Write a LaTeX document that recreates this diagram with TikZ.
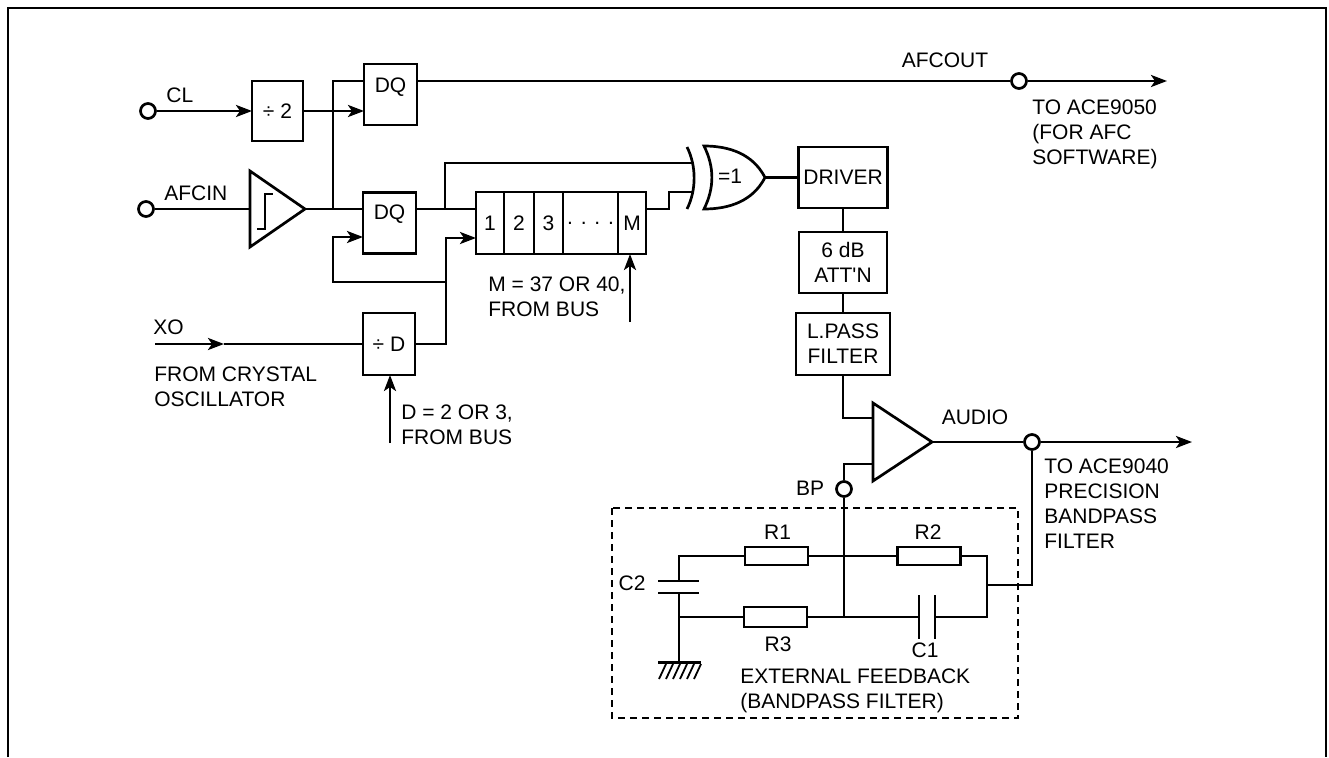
\documentclass[tikz,border=0pt]{standalone}
\usepackage{fontspec}
\setmainfont{Liberation Sans}
\usetikzlibrary{arrows.meta,positioning}

\begin{document}
\begin{tikzpicture}[x=1pt,y=-1pt,line width=2.7pt,
		font=\fontsize{21}{25}\selectfont,
		blk/.style={draw,inner sep=0pt,outer sep=0pt,minimum width=53pt,minimum height=61pt},
		cell/.style={draw,inner sep=0pt,outer sep=0pt,minimum height=62pt},
		term/.style={draw,circle,fill=white,inner sep=0pt,minimum size=15pt},
		res/.style={draw,line width=2.3pt,inner sep=0pt,minimum width=63pt,minimum height=18pt},
		txt/.style={align=left,inner sep=0pt},
		sig/.style={-{Stealth[length=16pt,width=12pt,inset=4pt]}},
		wire/.style={line width=2.3pt}]
	\useasboundingbox (0,0) rectangle (1329,757);
	\draw (8,757) -- (8,8) -- (1326,8) -- (1326,757);

	% CL, divide by 2 and AFCOUT
	\node[term] (cl) at (148,111) {};
	\node[txt,anchor=west] (cllab) at (165,95) {CL};
	\node[blk,minimum width=51pt,minimum height=60pt] (div2) at (277.5,111) {÷ 2};
	\node[blk] (dq1) at (390.5,94.5) {};
	\node[anchor=north,inner sep=0pt] (dq1t) at ([yshift=-12pt]dq1.north) {DQ};
	\coordinate (dq1d) at ([yshift=13.5pt]dq1.west);
	\coordinate (dq1q) at ([yshift=13.5pt]dq1.east);
	\draw[sig] (cl) -- (div2);
	\draw[sig] (div2) -- (div2 -| dq1.west);
	\node[term] (afco) at (1019,81) {};
	\node (afcolab) at (945,60) {AFCOUT};
	\coordinate (afcend) at (1167,81);
	\draw (dq1q) -- (afco);
	\draw[sig] (afco) -- (afcend);
	\node[txt,anchor=north west] (afcotxt) at (1031,98.5) {TO ACE9050\\(FOR AFC\\SOFTWARE)};

	% AFCIN and schmitt trigger
	\node[term] (afci) at (146,209) {};
	\node[txt,anchor=west] (afcilab) at (163,193) {AFCIN};
	\coordinate (stin) at (250,209);
	\coordinate (stout) at (305,209);
	\draw[line join=miter] (250,171) -- (stout) -- (250,247) -- cycle;
	\draw[wire] (257,229) -| (265,194) -- (273,194);
	\draw (afci) -- (stin);
	\node[blk] (dq2) at (389.5,223) {};
	\node[anchor=north,inner sep=0pt] (dq2t) at ([yshift=-11pt]dq2.north) {DQ};
	\coordinate (dq2d) at ([yshift=14pt]dq2.west);
	\coordinate (dq2ck) at ([yshift=-14pt]dq2.west);
	\coordinate (dq2q) at ([yshift=14pt]dq2.east);
	\draw (stout) -- (dq2d);
	\coordinate (jin) at (333,209);
	\draw (jin) |- (dq1d);

	% shift register
	\node[cell,minimum width=28pt,anchor=west] (r1) at (476,223) {1};
	\node[cell,minimum width=30pt,right=0pt of r1] (r2) {2};
	\node[cell,minimum width=29pt,right=0pt of r2] (r3) {3};
	\node[cell,minimum width=55pt,right=0pt of r3] (r4) {. . . .};
	\node[cell,minimum width=28pt,right=0pt of r4] (r5) {M};
	\draw (dq2q) -- (r1.west |- dq2q);
	\coordinate (jbr) at (445,209);
	\coordinate (xin1) at (692,163);
	\coordinate (xin2) at (692,192);
	\draw (jbr) |- (xin1);
	\coordinate (rq) at (r5.east |- dq2q);
	\draw (rq) -- ++(23,0) |- (xin2);
	\coordinate (mbus) at (630,322);
	\draw[sig] (mbus) -- (mbus |- r5.south);
	\node[txt,anchor=north west] (mtxt) at (487,275.5) {M = 37 OR 40,\\FROM BUS};

	% XO and divide by D
	\node[txt,anchor=west] (xolab) at (152,327) {XO};
	\coordinate (xo) at (155,344);
	\coordinate (xoarr) at (224,344);
	\node[blk,minimum width=52pt,minimum height=62pt] (divd) at (389,344) {÷ D};
	\draw[sig] (xo) -- (xoarr);
	\draw (xoarr) -- (divd);
	\node[txt,anchor=north west] (xotxt) at (153,365.5) {FROM CRYSTAL\\OSCILLATOR};
	\coordinate (dbus) at (390,443);
	\draw[sig] (dbus) -- (dbus |- divd.south);
	\node[txt,anchor=north west] (dtxt) at (400,403.5) {D = 2 OR 3,\\FROM BUS};
	\coordinate (jck) at (446,238);
	\coordinate (jlp) at (446,282);
	\draw[sig] (divd.east) -| (jck) -- (r1.west |- jck);
	\draw[sig] (jlp) -| ([xshift=-30pt]dq2ck) -- (dq2ck);

	% exclusive or
	\coordinate (xout) at (765,177.5);
	\draw (704,146) .. controls (738,146) and (756,160) .. (xout) .. controls (756,195) and (738,209) .. (704,209) .. controls (714.5,188) and (714.5,167) .. cycle;
	\draw (687,147) .. controls (696.5,166) and (696.5,190) .. (687,209);
	\node (xlab) at (730,176) {=1};

	% audio chain
	\node[blk,minimum width=89pt] (drv) at (843,177.5) {DRIVER};
	\node[blk,minimum width=88pt,below=24pt of drv,align=center] (att) {6 dB\\ATT\textquotesingle N};
	\node[blk,minimum width=94pt,minimum height=62pt,below=20pt of att,align=center] (lpf) {L.PASS\\FILTER};
	\draw (xout) -- (drv);
	\draw (drv) -- (att);
	\draw (att) -- (lpf);
	\coordinate (ain1) at (873,418);
	\coordinate (ain2) at (873,464);
	\coordinate (aout) at (932,442);
	\draw[line join=miter] (873,403) -- (aout) -- (873,481) -- cycle;
	\draw (lpf) |- (ain1);
	\node[term] (bp) at (844,489) {};
	\node (bplab) at (810,488) {BP};
	\draw (bp) |- (ain2);
	\node[term] (aud) at (1032,442) {};
	\node (audlab) at (975,417) {AUDIO};
	\coordinate (audend) at (1192,442);
	\draw (aout) -- (aud);
	\draw[sig] (aud) -- (audend);
	\node[txt,anchor=north west] (audtxt) at (1043,457.5) {TO ACE9040\\PRECISION\\BANDPASS\\FILTER};

	% external feedback network
	\draw[line width=2.2pt,dash pattern=on 7pt off 5pt] (612,508) rectangle (1018,718);
	\node[res] (res1) at (776.5,556) {};
	\node[res] (res2) at (929,556) {};
	\node[res,minimum height=20pt] (res3) at (775.5,617) {};
	\coordinate (c2a) at (679,581);
	\coordinate (c2b) at (679,593);
	\coordinate (c1a) at (919,617);
	\coordinate (c1b) at (935,617);
	\coordinate (jb) at (844,617);
	\coordinate (rb) at (987,617);
	\coordinate (rm) at (987,585);
	\coordinate (gnd) at (679,662);
	\begin{scope}[wire]
		\draw (c2a) |- (res1);
		\draw (res1) -- (res2);
		\draw (res2) -| (rb) -- (c1b);
		\draw (c1a) -- (res3);
		\draw (res3) -| (c2b);
		\draw (c2b) -- (gnd);
		\draw (bp) -- (jb);
		\draw (rm) -| (aud);
		\draw ([xshift=-21pt]c2a) -- ([xshift=20pt]c2a);
		\draw ([xshift=-21pt]c2b) -- ([xshift=20pt]c2b);
		\draw ([yshift=22pt]c1a) -- ([yshift=-22pt]c1a);
		\draw ([yshift=22pt]c1b) -- ([yshift=-22pt]c1b);
		\draw[line width=3pt] ([xshift=-21pt]gnd) -- ([xshift=22pt]gnd);
		\foreach \i in {0,...,5}
			\draw[line width=1.8pt] ([xshift=\i*7pt-13pt,yshift=-2pt]gnd) -- ++(-7,15);
	\end{scope}
	\node (r1lab) at (777.5,532) {R1};
	\node (r2lab) at (928,532) {R2};
	\node (r3lab) at (778,644) {R3};
	\node (c1lab) at (925,650) {C1};
	\node (c2lab) at (632,583) {C2};
	\node[txt,anchor=north west] (fbtxt) at (739,667.5) {EXTERNAL FEEDBACK\\(BANDPASS FILTER)};
\end{tikzpicture}
\end{document}
